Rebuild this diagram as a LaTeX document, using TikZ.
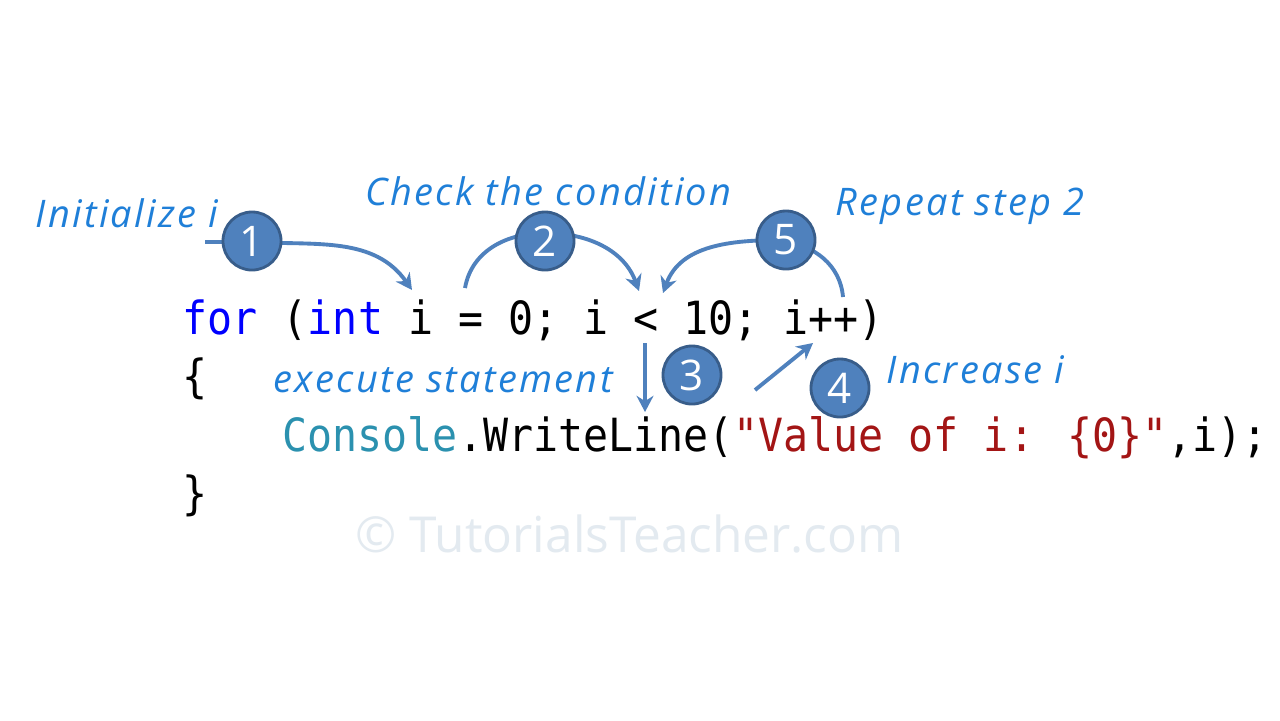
\documentclass[tikz,border=0pt]{standalone}
\usepackage{fontspec}
\usetikzlibrary{arrows.meta}
\newfontfamily\codefont[FakeStretch=0.91]{DejaVu Sans Mono}
\newfontfamily\notefont[LetterSpace=6]{Open Sans}
\newfontfamily\markfont{Open Sans}
\definecolor{stepblue}{HTML}{4F81BD}
\definecolor{stepedge}{HTML}{385D8A}
\definecolor{notecol}{HTML}{1F7FD8}
\definecolor{kwblue}{HTML}{0000FF}
\definecolor{typeteal}{HTML}{2B91AF}
\definecolor{strred}{HTML}{A31515}
\definecolor{marklight}{HTML}{E3EAF0}

\begin{document}
\begin{tikzpicture}[x=0.01cm,y=-0.01cm,
    code/.style={anchor=base west,inner sep=0pt,font=\codefont\fontsize{13pt}{15pt}\selectfont},
    note/.style={anchor=base west,inner sep=0pt,text=notecol,font=\notefont\itshape\fontsize{10.8pt}{12pt}\selectfont},
    stepcircle/.style={circle,fill=stepblue,draw=stepedge,line width=0.8pt,minimum size=0.58cm,inner sep=0pt,text=white,font=\markfont\fontsize{12pt}{14pt}\selectfont},
    flow/.style={draw=stepblue,line width=1.1pt,-{Stealth[length=4.6pt,width=4.8pt]}}]

    \fill[white] (0,0) rectangle (1280,720);
    \useasboundingbox (0,0) rectangle (1280,720);

    % code
    \node[code] (for) at (182,334) {\textcolor{kwblue}{for} (\textcolor{kwblue}{int} i = 0; i < 10; i++)};
    \node[code] (open) at (182,392) {\{};
    \node[code] (call) at (282,451) {\textcolor{typeteal}{Console}.WriteLine(\textcolor{strred}{"Value of i: \{0\}"},i);};
    \node[code] (close) at (182,509) {\}};

    % notes
    \node[note] (init) at (35,227) {Initialize i};
    \node[note] (check) at (365,205) {Check the condition};
    \node[note] (repeat) at (835,215) {Repeat step 2};
    \node[note] (exec) at (273,392) {execute statement};
    \node[note] (incr) at (886,383) {Increase i};

    \node[anchor=base west,inner sep=0pt,text=marklight,font=\markfont\fontsize{14.1pt}{16pt}\selectfont] (mark) at (355,552) {© TutorialsTeacher.com};

    % arrow ends
    \coordinate (s1) at (205,242);
    \coordinate (a1) at (252,242);
    \coordinate (t1) at (412,290);
    \coordinate (s2) at (465,288);
    \coordinate (a2) at (545,233);
    \coordinate (t2) at (639,291);
    \coordinate (s5) at (843,297);
    \coordinate (a5) at (782,240);
    \coordinate (t5) at (663,293);
    \coordinate (s3) at (645,343);
    \coordinate (t3) at (645,412);
    \coordinate (s4) at (755,390);
    \coordinate (t4) at (813,343);

    \draw[flow] (s1) -- (a1) to[out=-3,in=125] (t1);
    \draw[flow] (s2) to[out=80,in=180] (a2) to[out=0,in=110] (t2);
    \draw[flow] (s5) to[out=95,in=-10] (a5) to[out=180,in=70] (t5);
    \draw[flow] (s3) -- (t3);
    \draw[flow] (s4) -- (t4);

    % steps
    \node[stepcircle] (n1) at (252,241) {1};
    \node[stepcircle] (n2) at (545,241) {2};
    \node[stepcircle] (n3) at (692,375) {3};
    \node[stepcircle] (n4) at (840,388) {4};
    \node[stepcircle] (n5) at (786,240) {5};
\end{tikzpicture}
\end{document}
